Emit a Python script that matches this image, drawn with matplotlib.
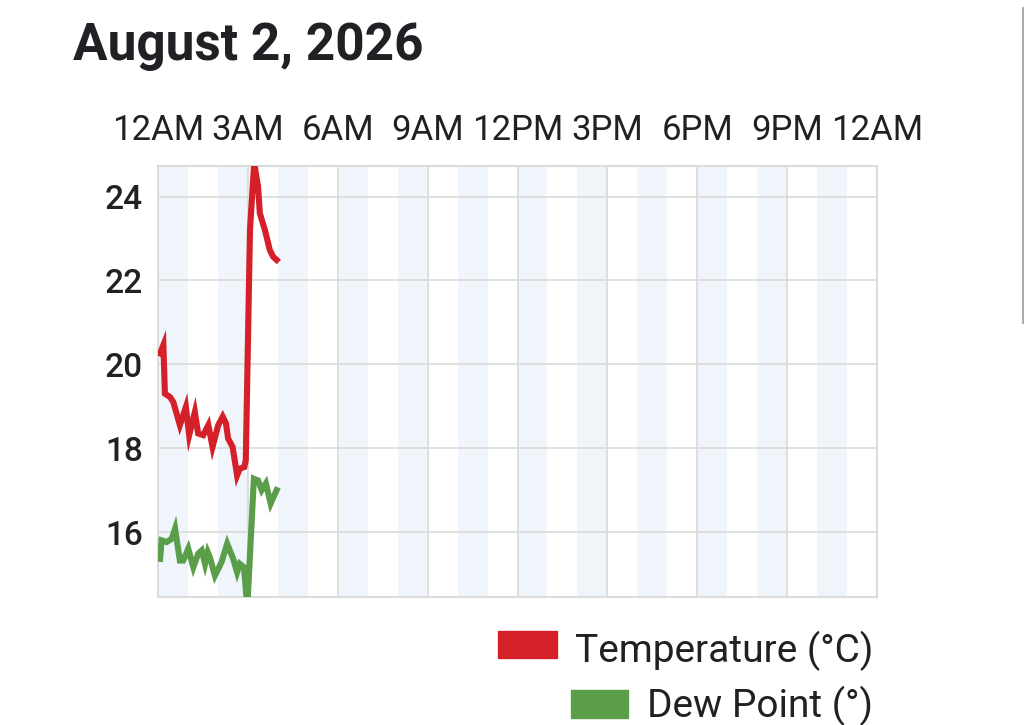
import numpy as np
import matplotlib.pyplot as plt
from matplotlib.patches import Rectangle
from matplotlib.lines import Line2D

plt.rcParams['font.family'] = ['Roboto', 'DejaVu Sans']

# hours since midnight and readings
temp_hours = [0.07, 0.18, 0.23, 0.40, 0.51, 0.73, 0.93, 1.04, 1.23, 1.34, 1.51, 1.68,
              1.82, 2.01, 2.16, 2.27, 2.34, 2.49, 2.64, 2.73, 2.88, 2.93, 3.07, 3.21,
              3.34, 3.40, 3.57, 3.73, 3.84, 3.96]
temp_values = [20.26, 20.46, 19.30, 19.22, 19.10, 18.55, 18.98, 18.31, 18.86, 18.35, 18.31, 18.55,
               18.03, 18.55, 18.75, 18.59, 18.23, 18.03, 17.35, 17.51, 17.55, 17.71, 23.2, 24.8,
               24.24, 23.6, 23.2, 22.73, 22.57, 22.49]

dew_hours = [0.07, 0.12, 0.29, 0.46, 0.57, 0.73, 0.84, 1.01, 1.18, 1.34, 1.46, 1.57,
             1.66, 1.73, 1.90, 2.12, 2.31, 2.51, 2.64, 2.73, 2.87, 2.98, 3.20, 3.34,
             3.46, 3.60, 3.76, 3.96]
dew_values = [15.36, 15.80, 15.76, 15.84, 16.08, 15.32, 15.32, 15.60, 15.16, 15.48, 15.56, 15.24,
              15.52, 15.40, 14.96, 15.28, 15.72, 15.36, 15.04, 15.24, 15.16, 14.2, 17.27, 17.23,
              17.0, 17.16, 16.68, 17.0]

tick_hours = [0, 3, 6, 9, 12, 15, 18, 21, 24]
tick_labels = ["12AM", "3AM", "6AM", "9AM", "12PM", "3PM", "6PM", "9PM", "12AM"]
y_ticks = [16, 18, 20, 22, 24]

red = "#d52029"
green = "#5b9e4a"
text_col = "#202124"

fig = plt.figure(figsize=(10.24, 7.25), dpi=100)
ax = fig.add_axes([158 / 1024, 1 - 597 / 725, 719 / 1024, 431 / 725])

# light stripes on every other hour
for h in range(0, 24, 2):
    ax.axvspan(h, h + 1, color="#eff5fa", lw=0, zorder=0)

ax.plot(temp_hours, temp_values, color=red, lw=4.4, solid_joinstyle="miter", zorder=3)
ax.plot(dew_hours, dew_values, color=green, lw=4.4, solid_joinstyle="miter", zorder=3)

ax.set_xlim(0, 24)
ax.set_ylim(14.45, 24.73)
ax.set_xticks(tick_hours)
ax.set_xticklabels(tick_labels)
ax.set_yticks(y_ticks)
ax.xaxis.tick_top()
ax.tick_params(axis="x", length=0, pad=14, labelsize=25, labelcolor=text_col)
ax.tick_params(axis="y", length=0, pad=11, labelsize=24, labelcolor=text_col)
for lab in ax.get_yticklabels():
    lab.set_fontweight("medium")
ax.grid(True, color="#dcdcdc", lw=1.3, zorder=1)
for s in ax.spines.values():
    s.set_color("#dcdcdc")
    s.set_linewidth(1.5)

fig.text(73 / 1024, 1 - 60 / 725, "August 2, 2026", fontsize=37, fontweight="bold",
         color=text_col, ha="left", va="baseline")

# legend drawn below the plot, right aligned
fig.patches.append(Rectangle((498 / 1024, 1 - 658 / 725), 59 / 1024, 27 / 725,
                             transform=fig.transFigure, color=red))
fig.patches.append(Rectangle((571 / 1024, 1 - 718 / 725), 57 / 1024, 28 / 725,
                             transform=fig.transFigure, color=green))
fig.text(873 / 1024, 1 - 662 / 725, "Temperature (°C)", fontsize=28, color=text_col,
         ha="right", va="baseline")
fig.text(873 / 1024, 1 - 717 / 725, "Dew Point (°)", fontsize=28, color=text_col,
         ha="right", va="baseline")

# cut-off label of the next chart and the scrollbar
fig.text(140 / 1024, 1 - 743 / 725, "14", fontsize=24, color=text_col, ha="right", va="center")
fig.lines.append(Line2D([1022.5 / 1024, 1022.5 / 1024], [1 - 8 / 725, 1 - 322 / 725],
                        transform=fig.transFigure, color="#a8a8a8", lw=2))

fig.savefig("out.png", dpi=100)
